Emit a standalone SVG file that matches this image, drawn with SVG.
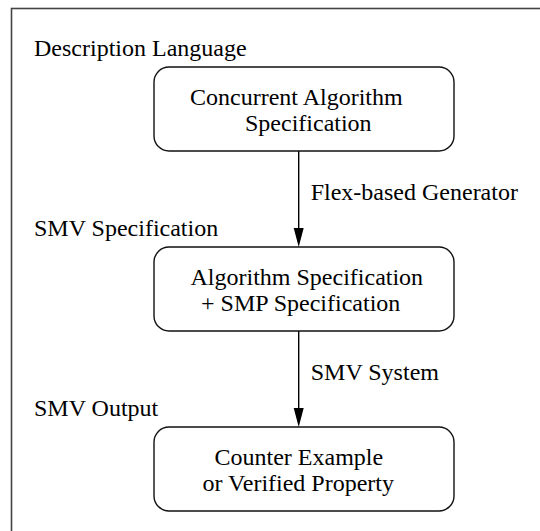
<svg xmlns="http://www.w3.org/2000/svg" width="540" height="531" viewBox="0 0 540 531">
<style>
.t{font-family:Liberation Serif, Times New Roman, serif;font-size:24px;fill:#000}
.box{fill:#fff;stroke:#111;stroke-width:1.4}
.edge{stroke:#000;stroke-width:1.4;fill:none}
.head{fill:#000}
</style>
<rect width="540" height="531" fill="#fff"/>
<rect id="frame" x="11.5" y="8.5" width="560" height="560" fill="none" stroke="#444" stroke-width="1.6"/>
<g id="labels">
<text class="t" x="34" y="56">Description Language</text>
<text class="t" x="34" y="236">SMV Specification</text>
<text class="t" x="34" y="416">SMV Output</text>
</g>
<g id="connectors">
<line class="edge" x1="298.7" y1="151" x2="298.7" y2="230"/>
<path class="head" d="M293.7,228 L303.7,228 L298.7,247 Z"/>
<text class="t" x="310.7" y="200">Flex-based Generator</text>
<line class="edge" x1="298.7" y1="331" x2="298.7" y2="410"/>
<path class="head" d="M293.7,408 L303.7,408 L298.7,427 Z"/>
<text class="t" x="310.7" y="380">SMV System</text>
</g>
<g id="n1">
<rect class="box" x="154" y="67" width="300" height="84" rx="15" ry="15"/>
<text class="t" x="190" y="105">Concurrent Algorithm</text>
<text class="t" x="245" y="131">Specification</text>
</g>
<g id="n2">
<rect class="box" x="154" y="247" width="300" height="84" rx="15" ry="15"/>
<text class="t" x="190.5" y="285">Algorithm Specification</text>
<text class="t" x="201" y="311">+ SMP Specification</text>
</g>
<g id="n3">
<rect class="box" x="154" y="427" width="300" height="84" rx="15" ry="15"/>
<text class="t" x="214.5" y="465">Counter Example</text>
<text class="t" x="202.5" y="491">or Verified Property</text>
</g>
</svg>
